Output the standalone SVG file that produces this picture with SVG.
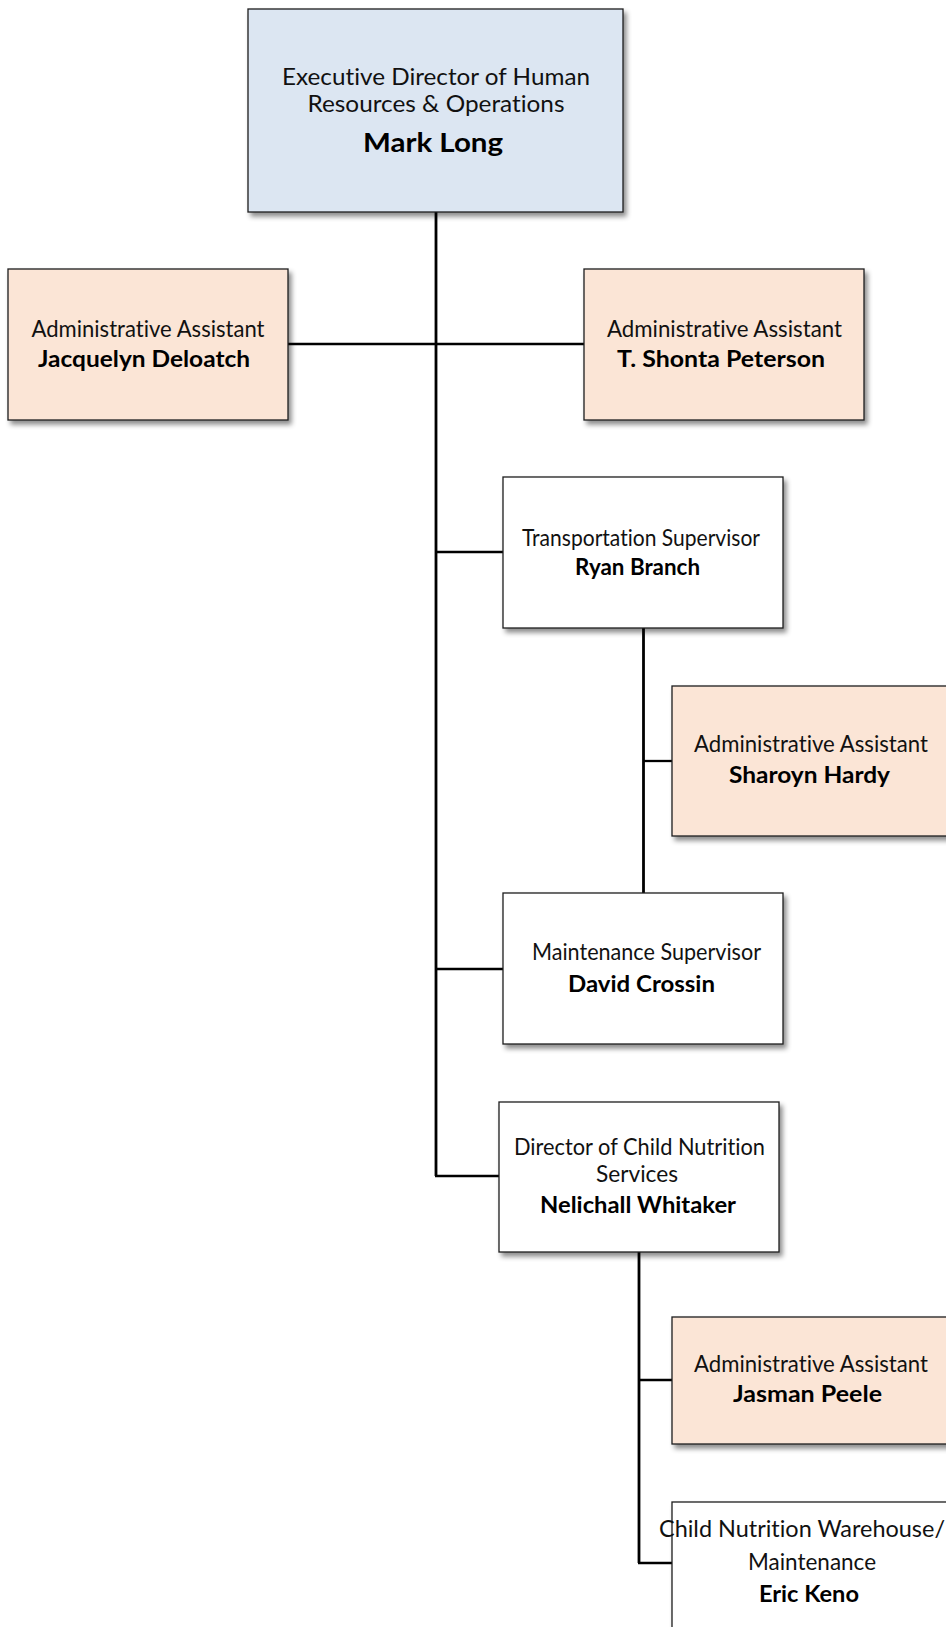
<svg xmlns="http://www.w3.org/2000/svg" width="946" height="1627" viewBox="0 0 946 1627">
  <defs>
    <filter id="shadow" x="-10%" y="-10%" width="130%" height="130%">
      <feDropShadow dx="3" dy="4" stdDeviation="2.5" flood-color="#000" flood-opacity="0.45"/>
    </filter>
    <style>
      .box { stroke: #1e1e1e; stroke-width: 1.3; filter: url(#shadow); }
      .exec { fill: #DCE6F2; }
      .assist { fill: #FBE5D6; }
      .plain { fill: #FFFFFF; }
      .title { font-family: Lato, "Noto Sans", "Liberation Sans", sans-serif; font-size: 22.5px; fill: #111; text-anchor: middle; font-variant-ligatures: none; }
      .name { font-family: Lato, "Noto Sans", "Liberation Sans", sans-serif; font-size: 23.5px; font-weight: bold; fill: #000; text-anchor: middle; font-variant-ligatures: none; }
      .big { font-size: 27px; }
      .trunk { stroke: #000; stroke-width: 2.8; fill: none; }
      .line { stroke: #000; stroke-width: 2.3; fill: none; }
    </style>
  </defs>
  <rect width="946" height="1627" fill="#FFFFFF"/>

  <!-- reporting lines -->
  <g id="connectors">
    <line class="trunk" x1="436" y1="212" x2="436" y2="1176"/>
    <line class="line" x1="288" y1="344" x2="584" y2="344"/>
    <line class="line" x1="436" y1="552" x2="503" y2="552"/>
    <line class="line" x1="436" y1="969" x2="503" y2="969"/>
    <line class="line" x1="435" y1="1176" x2="499" y2="1176"/>
    <line class="trunk" x1="643.5" y1="628" x2="643.5" y2="893"/>
    <line class="line" x1="643" y1="761" x2="672" y2="761"/>
    <line class="trunk" x1="639" y1="1252" x2="639" y2="1563"/>
    <line class="line" x1="639" y1="1380" x2="672" y2="1380"/>
    <line class="line" x1="638" y1="1563" x2="672" y2="1563"/>
  </g>

  <g id="exec-director">
    <rect class="box exec" x="248" y="9" width="375" height="203"/>
    <text class="title" x="436" y="85" textLength="308" lengthAdjust="spacingAndGlyphs">Executive Director of Human</text>
    <text class="title" x="436" y="112" textLength="257" lengthAdjust="spacingAndGlyphs">Resources &amp; Operations</text>
    <text class="name big" x="433" y="152" textLength="140" lengthAdjust="spacingAndGlyphs">Mark Long</text>
  </g>

  <g id="assistant-deloatch">
    <rect class="box assist" x="8" y="269" width="280" height="151"/>
    <text class="title" x="148" y="337" textLength="233" lengthAdjust="spacingAndGlyphs">Administrative Assistant</text>
    <text class="name" x="144" y="367" textLength="212" lengthAdjust="spacingAndGlyphs">Jacquelyn Deloatch</text>
  </g>

  <g id="assistant-peterson">
    <rect class="box assist" x="584" y="269" width="280" height="151"/>
    <text class="title" x="724.5" y="337" textLength="235" lengthAdjust="spacingAndGlyphs">Administrative Assistant</text>
    <text class="name" x="721" y="367" textLength="208" lengthAdjust="spacingAndGlyphs">T. Shonta Peterson</text>
  </g>

  <g id="transportation">
    <rect class="box plain" x="503" y="477" width="280" height="151"/>
    <text class="title" x="641" y="546" textLength="238" lengthAdjust="spacingAndGlyphs">Transportation Supervisor</text>
    <text class="name" x="637.5" y="575" textLength="125" lengthAdjust="spacingAndGlyphs">Ryan Branch</text>
  </g>

  <g id="assistant-hardy">
    <rect class="box assist" x="672" y="686" width="278" height="150"/>
    <text class="title" x="811" y="752" textLength="234" lengthAdjust="spacingAndGlyphs">Administrative Assistant</text>
    <text class="name" x="809.5" y="783" textLength="161" lengthAdjust="spacingAndGlyphs">Sharoyn Hardy</text>
  </g>

  <g id="maintenance">
    <rect class="box plain" x="503" y="893" width="280" height="151"/>
    <text class="title" x="646.5" y="960" textLength="229" lengthAdjust="spacingAndGlyphs">Maintenance Supervisor</text>
    <text class="name" x="641.5" y="992" textLength="147" lengthAdjust="spacingAndGlyphs">David Crossin</text>
  </g>

  <g id="child-nutrition">
    <rect class="box plain" x="499" y="1102" width="280" height="150"/>
    <text class="title" x="639.5" y="1155" textLength="251" lengthAdjust="spacingAndGlyphs">Director of Child Nutrition</text>
    <text class="title" x="637" y="1182" textLength="82" lengthAdjust="spacingAndGlyphs">Services</text>
    <text class="name" x="638" y="1213" textLength="196" lengthAdjust="spacingAndGlyphs">Nelichall Whitaker</text>
  </g>

  <g id="assistant-peele">
    <rect class="box assist" x="672" y="1317" width="278" height="127"/>
    <text class="title" x="811" y="1372" textLength="234" lengthAdjust="spacingAndGlyphs">Administrative Assistant</text>
    <text class="name" x="807.5" y="1402" textLength="149" lengthAdjust="spacingAndGlyphs">Jasman Peele</text>
  </g>

  <g id="warehouse">
    <rect class="box plain" x="672" y="1502" width="278" height="160"/>
    <text class="title" x="802" y="1537" textLength="286" lengthAdjust="spacingAndGlyphs">Child Nutrition Warehouse/</text>
    <text class="title" x="812" y="1570" textLength="128" lengthAdjust="spacingAndGlyphs">Maintenance</text>
    <text class="name" x="809" y="1602" textLength="100" lengthAdjust="spacingAndGlyphs">Eric Keno</text>
  </g>
</svg>
